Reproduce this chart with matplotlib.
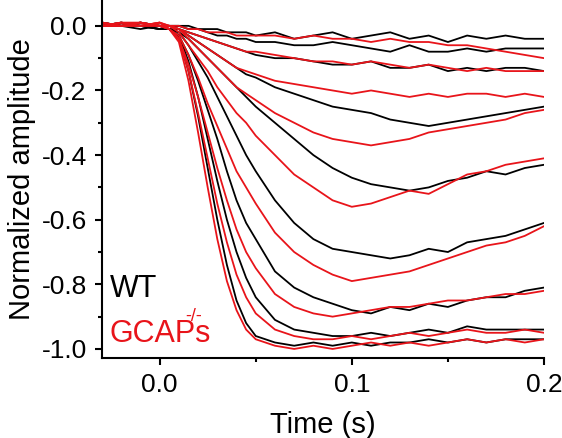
import matplotlib
matplotlib.use("Agg")
import matplotlib.pyplot as plt
from matplotlib.ticker import MultipleLocator

t = [-0.03, -0.02, -0.01, 0.0, 0.005, 0.01, 0.015, 0.02, 0.025, 0.03, 0.035, 0.04, 0.045, 0.05, 0.06, 0.07,
     0.08, 0.09, 0.1, 0.11, 0.12, 0.13, 0.14, 0.15, 0.16, 0.17, 0.18, 0.19, 0.2]

wt = [
 [0.01, 0.0, 0.01, 0.0, 0.0, 0.0, 0.0, -0.01, -0.01, -0.01, -0.02, -0.02, -0.02, -0.03, -0.02, -0.04, -0.03, -0.02, -0.04, -0.03, -0.02, -0.04, -0.03, -0.05, -0.03, -0.04, -0.03, -0.04, -0.04],
 [0.0, 0.01, 0.0, 0.0, 0.0, 0.0, -0.01, -0.01, -0.02, -0.03, -0.03, -0.04, -0.04, -0.05, -0.05, -0.06, -0.06, -0.05, -0.06, -0.07, -0.08, -0.06, -0.08, -0.08, -0.07, -0.08, -0.07, -0.07, -0.07],
 [0.0, 0.0, -0.01, 0.0, 0.0, -0.01, -0.02, -0.03, -0.04, -0.05, -0.06, -0.07, -0.08, -0.09, -0.10, -0.10, -0.11, -0.12, -0.12, -0.11, -0.13, -0.13, -0.12, -0.14, -0.13, -0.14, -0.13, -0.13, -0.14],
 [0.0, 0.0, 0.0, -0.01, -0.01, -0.01, -0.03, -0.05, -0.07, -0.09, -0.11, -0.13, -0.15, -0.16, -0.19, -0.21, -0.23, -0.25, -0.26, -0.27, -0.29, -0.30, -0.31, -0.30, -0.29, -0.28, -0.27, -0.26, -0.25],
 [0.01, 0.0, 0.0, -0.01, -0.01, -0.02, -0.04, -0.07, -0.10, -0.13, -0.16, -0.19, -0.22, -0.25, -0.30, -0.35, -0.40, -0.44, -0.47, -0.49, -0.50, -0.51, -0.50, -0.48, -0.47, -0.45, -0.46, -0.44, -0.43],
 [0.0, 0.0, 0.01, 0.0, -0.01, -0.02, -0.06, -0.11, -0.16, -0.22, -0.28, -0.34, -0.40, -0.45, -0.54, -0.61, -0.66, -0.69, -0.70, -0.71, -0.72, -0.71, -0.69, -0.70, -0.67, -0.66, -0.65, -0.63, -0.61],
 [0.0, 0.01, 0.0, 0.0, -0.01, -0.03, -0.09, -0.17, -0.26, -0.35, -0.45, -0.54, -0.61, -0.66, -0.76, -0.81, -0.84, -0.86, -0.88, -0.89, -0.87, -0.88, -0.86, -0.87, -0.85, -0.84, -0.84, -0.82, -0.81],
 [0.0, 0.0, 0.0, -0.01, -0.01, -0.03, -0.11, -0.22, -0.35, -0.48, -0.60, -0.70, -0.78, -0.84, -0.91, -0.94, -0.95, -0.96, -0.96, -0.95, -0.96, -0.95, -0.94, -0.95, -0.93, -0.94, -0.94, -0.94, -0.94],
 [0.01, 0.0, 0.0, 0.0, -0.01, -0.04, -0.14, -0.28, -0.44, -0.60, -0.74, -0.85, -0.92, -0.96, -0.98, -0.99, -0.98, -0.99, -0.98, -0.99, -0.98, -0.98, -0.97, -0.98, -0.97, -0.98, -0.97, -0.97, -0.97],
]
gcaps = [
 [0.01, 0.0, 0.0, 0.01, 0.0, 0.0, -0.01, -0.01, -0.02, -0.02, -0.02, -0.03, -0.03, -0.03, -0.03, -0.04, -0.03, -0.04, -0.04, -0.05, -0.04, -0.05, -0.05, -0.06, -0.06, -0.07, -0.08, -0.09, -0.10],
 [0.0, 0.01, 0.01, 0.0, 0.0, -0.01, -0.02, -0.03, -0.04, -0.05, -0.06, -0.07, -0.08, -0.08, -0.09, -0.10, -0.11, -0.11, -0.12, -0.11, -0.12, -0.13, -0.12, -0.13, -0.14, -0.13, -0.14, -0.14, -0.14],
 [0.0, 0.0, 0.01, 0.0, 0.0, -0.01, -0.03, -0.05, -0.07, -0.09, -0.11, -0.13, -0.14, -0.15, -0.17, -0.18, -0.19, -0.20, -0.21, -0.20, -0.21, -0.22, -0.21, -0.22, -0.21, -0.21, -0.22, -0.21, -0.22],
 [0.01, 0.0, 0.0, 0.01, 0.0, -0.01, -0.04, -0.07, -0.10, -0.13, -0.16, -0.19, -0.21, -0.23, -0.27, -0.30, -0.33, -0.35, -0.36, -0.37, -0.36, -0.35, -0.33, -0.32, -0.31, -0.30, -0.29, -0.27, -0.26],
 [0.0, 0.01, 0.0, 0.0, 0.0, -0.02, -0.06, -0.10, -0.14, -0.19, -0.23, -0.27, -0.30, -0.34, -0.40, -0.46, -0.50, -0.54, -0.56, -0.55, -0.53, -0.51, -0.52, -0.49, -0.46, -0.45, -0.43, -0.42, -0.41],
 [0.0, 0.0, 0.01, 0.0, -0.01, -0.03, -0.09, -0.16, -0.24, -0.31, -0.38, -0.45, -0.50, -0.55, -0.64, -0.70, -0.74, -0.77, -0.79, -0.78, -0.77, -0.76, -0.74, -0.72, -0.70, -0.68, -0.67, -0.65, -0.62],
 [0.01, 0.0, 0.0, 0.01, -0.01, -0.04, -0.12, -0.22, -0.33, -0.44, -0.54, -0.63, -0.70, -0.75, -0.83, -0.87, -0.89, -0.90, -0.89, -0.88, -0.87, -0.87, -0.86, -0.85, -0.85, -0.84, -0.83, -0.83, -0.82],
 [0.0, 0.01, 0.0, 0.0, -0.01, -0.04, -0.14, -0.27, -0.41, -0.55, -0.67, -0.77, -0.84, -0.89, -0.94, -0.96, -0.97, -0.97, -0.96, -0.97, -0.96, -0.95, -0.96, -0.95, -0.94, -0.95, -0.95, -0.94, -0.95],
 [0.0, 0.0, 0.01, 0.0, -0.01, -0.05, -0.17, -0.33, -0.50, -0.66, -0.79, -0.88, -0.94, -0.97, -0.99, -1.00, -0.99, -1.00, -0.99, -0.98, -0.99, -0.98, -0.99, -0.98, -0.97, -0.98, -0.97, -0.98, -0.97],
]

plt.rcParams['font.family'] = ['Liberation Sans', 'DejaVu Sans']
fig = plt.figure(figsize=(5.62, 4.38), dpi=100)
ax = fig.add_axes([102/562, 1-358/438, 442/562, 358/438])
for y in wt:
    ax.plot(t, y, color='black', lw=1.3)
for y in gcaps:
    ax.plot(t, y, color='#e8141a', lw=1.3)
ax.set_xlim(-0.03, 0.2)
ax.set_ylim(-1.028, 0.08)
ax.set_xticks([0.0, 0.1, 0.2])
ax.set_xticklabels(['0.0', '0.1', '0.2'])
ax.set_yticks([0.0, -0.2, -0.4, -0.6, -0.8, -1.0])
ax.set_yticklabels(['0.0', '-0.2', '-0.4', '-0.6', '-0.8', '-1.0'])
ax.xaxis.set_minor_locator(MultipleLocator(0.05))
ax.yaxis.set_minor_locator(MultipleLocator(0.1))
ax.tick_params(which='major', length=5, width=1.5, labelsize=19, pad=6)
ax.tick_params(which='minor', length=3, width=1.5)
for s in ['top', 'right']:
    ax.spines[s].set_visible(False)
for s in ['left', 'bottom']:
    ax.spines[s].set_linewidth(1.5)
ax.set_xlabel('Time (s)', fontsize=21, labelpad=10)
ax.set_ylabel('Normalized amplitude', fontsize=21, labelpad=4)
ax.text(-0.026, -0.84, 'WT', fontsize=22, color='black')
ax.text(-0.026, -0.98, 'GCAPs', fontsize=22, color='#e8141a')
ax.text(0.0135, -0.915, '-/-', fontsize=13, color='#e8141a')
fig.savefig('out.png', dpi=100)
